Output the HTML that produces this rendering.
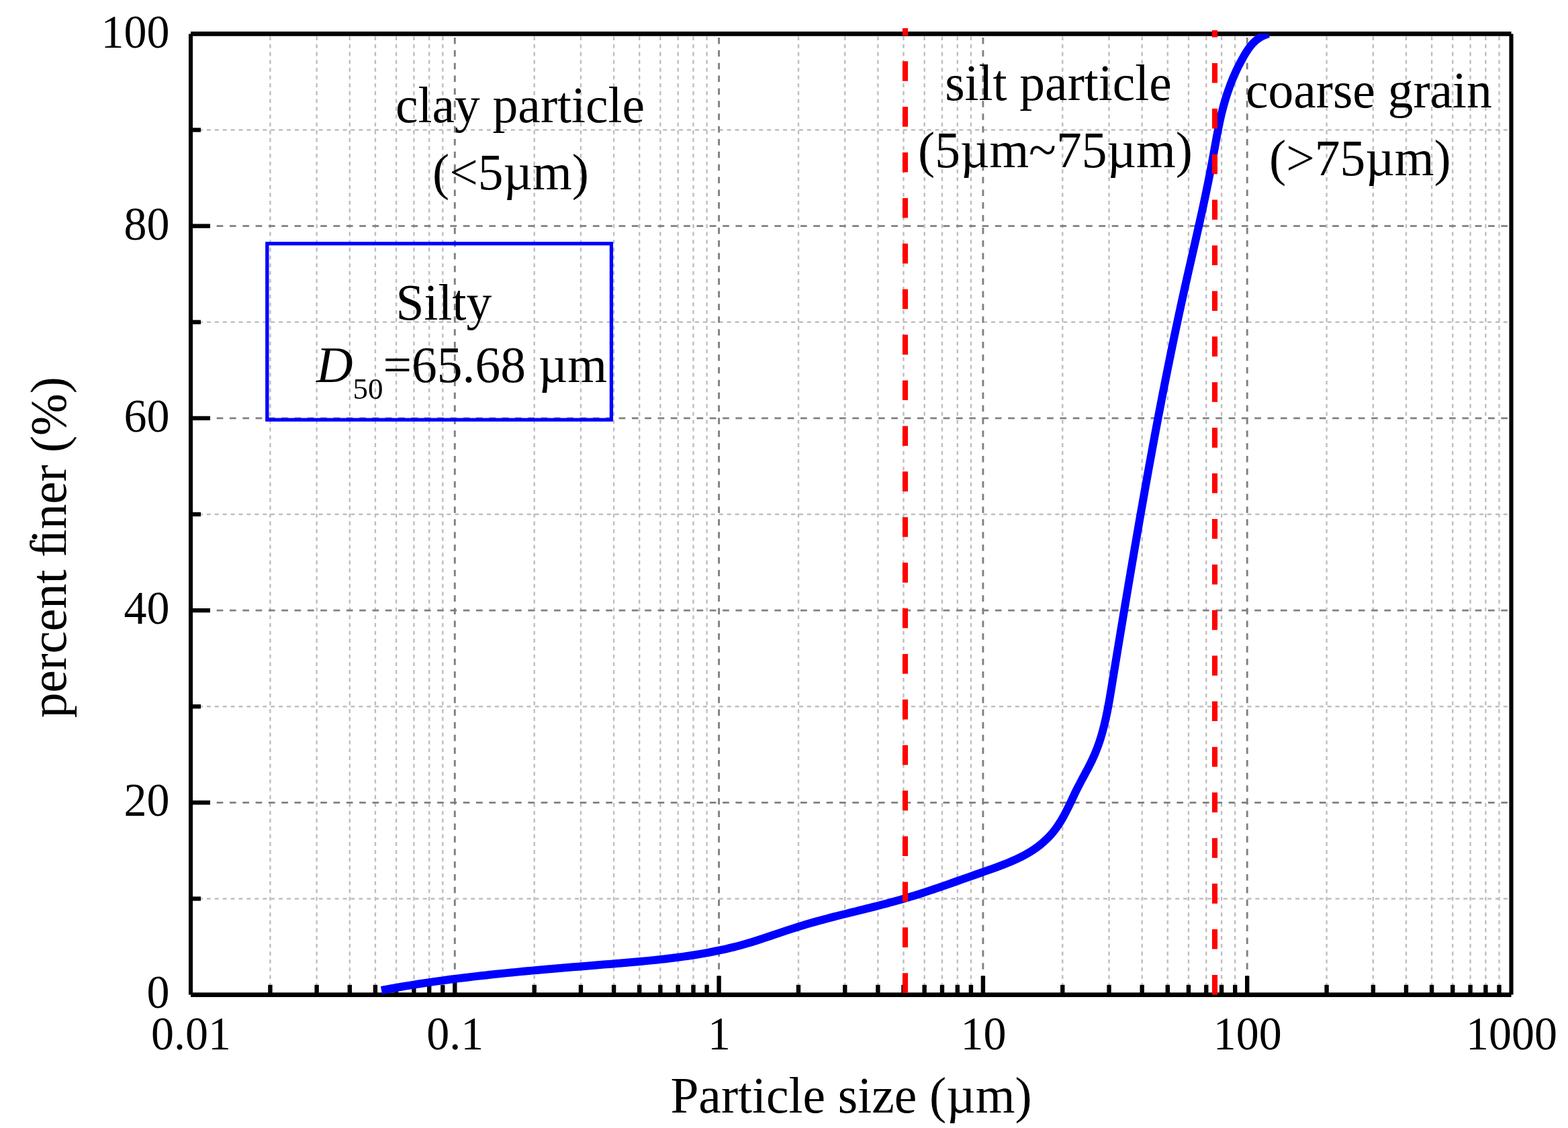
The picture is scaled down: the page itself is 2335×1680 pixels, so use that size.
<!DOCTYPE html>
<html lang="en"><head><meta charset="utf-8"><title>Particle size distribution</title>
<style>html,body{margin:0;padding:0;background:#fff}body{width:2335px;height:1680px;overflow:hidden}svg{display:block}text{font-family:"Liberation Serif","DejaVu Serif",serif;fill:#000}</style>
</head><body>
<svg width="2335" height="1680" viewBox="0 0 2335 1680">
<rect width="2335" height="1680" fill="#fff"/>
<defs><clipPath id="plot"><rect x="284.00" y="50.20" width="1966.50" height="1437.40"/></clipPath></defs>
<g fill="none" stroke="#bebebe" stroke-width="2.40" shape-rendering="auto">
<g stroke-dasharray="5.8 5.85">
<path d="M402.40 1481.40V50.50"/>
<path d="M471.65 1481.40V50.50"/>
<path d="M520.79 1481.40V50.50"/>
<path d="M558.90 1481.40V50.50"/>
<path d="M590.05 1481.40V50.50"/>
<path d="M616.38 1481.40V50.50"/>
<path d="M639.19 1481.40V50.50"/>
<path d="M659.30 1481.40V50.50"/>
<path d="M795.70 1481.40V50.50"/>
<path d="M864.95 1481.40V50.50"/>
<path d="M914.09 1481.40V50.50"/>
<path d="M952.20 1481.40V50.50"/>
<path d="M983.35 1481.40V50.50"/>
<path d="M1009.68 1481.40V50.50"/>
<path d="M1032.49 1481.40V50.50"/>
<path d="M1052.60 1481.40V50.50"/>
<path d="M1189.00 1481.40V50.50"/>
<path d="M1258.25 1481.40V50.50"/>
<path d="M1307.39 1481.40V50.50"/>
<path d="M1345.50 1481.40V50.50"/>
<path d="M1376.65 1481.40V50.50"/>
<path d="M1402.98 1481.40V50.50"/>
<path d="M1425.79 1481.40V50.50"/>
<path d="M1445.90 1481.40V50.50"/>
<path d="M1582.30 1481.40V50.50"/>
<path d="M1651.55 1481.40V50.50"/>
<path d="M1700.69 1481.40V50.50"/>
<path d="M1738.80 1481.40V50.50"/>
<path d="M1769.95 1481.40V50.50"/>
<path d="M1796.28 1481.40V50.50"/>
<path d="M1819.09 1481.40V50.50"/>
<path d="M1839.20 1481.40V50.50"/>
<path d="M1975.60 1481.40V50.50"/>
<path d="M2044.85 1481.40V50.50"/>
<path d="M2093.99 1481.40V50.50"/>
<path d="M2132.10 1481.40V50.50"/>
<path d="M2163.25 1481.40V50.50"/>
<path d="M2189.58 1481.40V50.50"/>
<path d="M2212.39 1481.40V50.50"/>
<path d="M2232.50 1481.40V50.50"/>
</g><g stroke-dasharray="6 5.92">
<path d="M284.00 1338.48H2250.50"/>
<path d="M284.00 1052.24H2250.50"/>
<path d="M284.00 766.00H2250.50"/>
<path d="M284.00 479.76H2250.50"/>
<path d="M284.00 193.52H2250.50"/>
</g></g>
<g fill="none" stroke="#808080" stroke-width="2.90" shape-rendering="auto">
<g stroke-dasharray="9.5 9.38">
<path d="M677.30 1481.40V50.50"/>
<path d="M1070.60 1481.40V50.50"/>
<path d="M1463.90 1481.40V50.50"/>
<path d="M1857.20 1481.40V50.50"/>
</g><g stroke-dasharray="9.7 9.62">
<path d="M284.00 1195.36H2250.50"/>
<path d="M284.00 909.12H2250.50"/>
<path d="M284.00 622.88H2250.50"/>
<path d="M284.00 336.64H2250.50"/>
</g></g>
<g fill="none" stroke="#000" stroke-linecap="butt">
<path stroke-width="6.90" d="M284.00 50.40H2250.50M284.00 1481.60H2250.50"/>
<path stroke-width="6.10" d="M284.00 50.40V1481.60M2250.50 50.40V1481.60"/>
</g>
<g fill="none" stroke="#000">
<g stroke-width="6.40">
<path d="M402.40 1481.60V1466.80"/>
<path d="M471.65 1481.60V1466.80"/>
<path d="M520.79 1481.60V1466.80"/>
<path d="M558.90 1481.60V1466.80"/>
<path d="M590.05 1481.60V1466.80"/>
<path d="M616.38 1481.60V1466.80"/>
<path d="M639.19 1481.60V1466.80"/>
<path d="M659.30 1481.60V1466.80"/>
<path d="M677.30 1481.60V1453.40"/>
<path d="M795.70 1481.60V1466.80"/>
<path d="M864.95 1481.60V1466.80"/>
<path d="M914.09 1481.60V1466.80"/>
<path d="M952.20 1481.60V1466.80"/>
<path d="M983.35 1481.60V1466.80"/>
<path d="M1009.68 1481.60V1466.80"/>
<path d="M1032.49 1481.60V1466.80"/>
<path d="M1052.60 1481.60V1466.80"/>
<path d="M1070.60 1481.60V1453.40"/>
<path d="M1189.00 1481.60V1466.80"/>
<path d="M1258.25 1481.60V1466.80"/>
<path d="M1307.39 1481.60V1466.80"/>
<path d="M1345.50 1481.60V1466.80"/>
<path d="M1376.65 1481.60V1466.80"/>
<path d="M1402.98 1481.60V1466.80"/>
<path d="M1425.79 1481.60V1466.80"/>
<path d="M1445.90 1481.60V1466.80"/>
<path d="M1463.90 1481.60V1453.40"/>
<path d="M1582.30 1481.60V1466.80"/>
<path d="M1651.55 1481.60V1466.80"/>
<path d="M1700.69 1481.60V1466.80"/>
<path d="M1738.80 1481.60V1466.80"/>
<path d="M1769.95 1481.60V1466.80"/>
<path d="M1796.28 1481.60V1466.80"/>
<path d="M1819.09 1481.60V1466.80"/>
<path d="M1839.20 1481.60V1466.80"/>
<path d="M1857.20 1481.60V1453.40"/>
<path d="M1975.60 1481.60V1466.80"/>
<path d="M2044.85 1481.60V1466.80"/>
<path d="M2093.99 1481.60V1466.80"/>
<path d="M2132.10 1481.60V1466.80"/>
<path d="M2163.25 1481.60V1466.80"/>
<path d="M2189.58 1481.60V1466.80"/>
<path d="M2212.39 1481.60V1466.80"/>
<path d="M2232.50 1481.60V1466.80"/>
</g><g stroke-width="6.30">
<path d="M284.00 1338.48H299.00"/>
<path d="M284.00 1195.36H313.00"/>
<path d="M284.00 1052.24H299.00"/>
<path d="M284.00 909.12H313.00"/>
<path d="M284.00 766.00H299.00"/>
<path d="M284.00 622.88H313.00"/>
<path d="M284.00 479.76H299.00"/>
<path d="M284.00 336.64H313.00"/>
<path d="M284.00 193.52H299.00"/>
</g></g>
<path clip-path="url(#plot)" d="M568.00 1475.00 C569.88 1474.65 575.54 1473.58 579.31 1472.90 C583.08 1472.21 586.85 1471.54 590.63 1470.88 C594.40 1470.22 598.18 1469.57 601.96 1468.94 C605.74 1468.30 609.52 1467.68 613.30 1467.08 C617.08 1466.47 620.87 1465.87 624.65 1465.29 C628.44 1464.70 632.23 1464.13 636.01 1463.57 C639.80 1463.01 643.59 1462.46 647.38 1461.92 C651.18 1461.39 654.97 1460.86 658.76 1460.34 C662.56 1459.82 666.35 1459.32 670.15 1458.82 C673.95 1458.32 677.74 1457.83 681.54 1457.36 C685.34 1456.88 689.14 1456.41 692.94 1455.95 C696.75 1455.49 700.55 1455.04 704.35 1454.60 C708.16 1454.15 711.96 1453.72 715.77 1453.29 C719.57 1452.86 723.38 1452.44 727.19 1452.03 C731.00 1451.62 734.81 1451.21 738.62 1450.82 C742.43 1450.42 746.24 1450.03 750.05 1449.64 C753.86 1449.25 757.67 1448.88 761.48 1448.50 C765.30 1448.13 769.11 1447.76 772.92 1447.40 C776.74 1447.03 780.55 1446.68 784.37 1446.32 C788.18 1445.97 792.00 1445.62 795.82 1445.28 C799.63 1444.93 803.45 1444.59 807.27 1444.25 C811.08 1443.92 814.90 1443.58 818.72 1443.25 C822.54 1442.92 826.36 1442.60 830.18 1442.27 C834.00 1441.95 837.81 1441.63 841.63 1441.31 C845.45 1440.99 849.27 1440.67 853.09 1440.35 C856.91 1440.03 860.73 1439.72 864.55 1439.41 C868.37 1439.09 872.19 1438.78 876.01 1438.47 C879.83 1438.15 883.65 1437.84 887.47 1437.53 C891.29 1437.22 895.11 1436.91 898.93 1436.59 C902.75 1436.28 906.57 1435.97 910.39 1435.65 C914.21 1435.34 918.03 1435.02 921.85 1434.70 C925.67 1434.38 929.49 1434.07 933.30 1433.74 C937.12 1433.41 940.94 1433.08 944.76 1432.74 C948.57 1432.40 952.39 1432.06 956.20 1431.70 C960.01 1431.34 963.83 1430.98 967.64 1430.60 C971.45 1430.22 975.26 1429.83 979.07 1429.43 C982.88 1429.02 986.68 1428.60 990.49 1428.17 C994.29 1427.73 998.09 1427.28 1001.89 1426.81 C1005.69 1426.33 1009.49 1425.84 1013.29 1425.33 C1017.08 1424.82 1020.88 1424.29 1024.66 1423.73 C1028.45 1423.17 1032.24 1422.59 1036.03 1421.98 C1039.81 1421.37 1043.59 1420.74 1047.37 1420.08 C1051.14 1419.41 1054.91 1418.72 1058.68 1418.00 C1062.44 1417.28 1066.20 1416.53 1069.95 1415.74 C1073.70 1414.95 1077.44 1414.13 1081.18 1413.28 C1084.91 1412.42 1088.63 1411.53 1092.35 1410.60 C1096.06 1409.67 1099.76 1408.70 1103.45 1407.69 C1107.14 1406.68 1110.82 1405.62 1114.49 1404.53 C1118.15 1403.45 1121.81 1402.31 1125.46 1401.17 C1129.11 1400.02 1132.74 1398.83 1136.38 1397.64 C1140.02 1396.45 1143.65 1395.23 1147.27 1394.02 C1150.90 1392.80 1154.53 1391.57 1158.16 1390.34 C1161.79 1389.12 1165.41 1387.89 1169.05 1386.68 C1172.68 1385.48 1176.32 1384.27 1179.96 1383.09 C1183.61 1381.91 1187.26 1380.75 1190.92 1379.62 C1194.58 1378.49 1198.25 1377.39 1201.92 1376.31 C1205.60 1375.23 1209.29 1374.18 1212.98 1373.14 C1216.67 1372.11 1220.37 1371.10 1224.07 1370.10 C1227.77 1369.10 1231.48 1368.12 1235.19 1367.15 C1238.91 1366.18 1242.62 1365.23 1246.34 1364.28 C1250.06 1363.34 1253.79 1362.40 1257.51 1361.47 C1261.23 1360.54 1264.96 1359.61 1268.68 1358.69 C1272.41 1357.77 1276.13 1356.85 1279.86 1355.92 C1283.58 1355.00 1287.31 1354.08 1291.03 1353.15 C1294.75 1352.22 1298.47 1351.28 1302.19 1350.34 C1305.90 1349.40 1309.61 1348.45 1313.32 1347.48 C1317.03 1346.51 1320.73 1345.54 1324.43 1344.54 C1328.13 1343.55 1331.82 1342.54 1335.50 1341.51 C1339.18 1340.48 1342.86 1339.43 1346.53 1338.36 C1350.20 1337.29 1353.85 1336.19 1357.51 1335.07 C1361.16 1333.96 1364.80 1332.82 1368.44 1331.66 C1372.08 1330.50 1375.71 1329.33 1379.34 1328.13 C1382.96 1326.94 1386.59 1325.73 1390.21 1324.52 C1393.83 1323.30 1397.44 1322.06 1401.06 1320.82 C1404.67 1319.58 1408.28 1318.32 1411.89 1317.06 C1415.50 1315.80 1419.11 1314.53 1422.73 1313.26 C1426.34 1311.98 1429.95 1310.70 1433.56 1309.42 C1437.18 1308.14 1440.80 1306.86 1444.42 1305.58 C1448.04 1304.30 1451.66 1303.01 1455.29 1301.74 C1458.92 1300.46 1462.55 1299.19 1466.19 1297.92 C1469.82 1296.64 1473.47 1295.39 1477.11 1294.10 C1480.74 1292.81 1484.37 1291.52 1487.98 1290.18 C1491.59 1288.84 1495.19 1287.48 1498.75 1286.05 C1502.31 1284.62 1505.85 1283.15 1509.34 1281.60 C1512.84 1280.04 1516.30 1278.44 1519.71 1276.72 C1523.11 1275.01 1526.48 1273.22 1529.77 1271.30 C1533.06 1269.39 1536.31 1267.38 1539.47 1265.24 C1542.63 1263.10 1545.74 1260.83 1548.73 1258.44 C1551.72 1256.06 1554.64 1253.54 1557.42 1250.92 C1560.20 1248.29 1562.88 1245.54 1565.40 1242.68 C1567.92 1239.82 1570.29 1236.83 1572.55 1233.76 C1574.80 1230.69 1576.90 1227.49 1578.92 1224.26 C1580.94 1221.02 1582.83 1217.69 1584.66 1214.34 C1586.50 1210.99 1588.22 1207.57 1589.93 1204.15 C1591.63 1200.73 1593.26 1197.27 1594.91 1193.81 C1596.56 1190.36 1598.16 1186.88 1599.83 1183.42 C1601.50 1179.96 1603.17 1176.51 1604.91 1173.07 C1606.65 1169.64 1608.46 1166.23 1610.26 1162.82 C1612.07 1159.41 1613.92 1156.02 1615.74 1152.62 C1617.55 1149.21 1619.38 1145.82 1621.14 1142.40 C1622.89 1138.97 1624.64 1135.55 1626.27 1132.09 C1627.91 1128.63 1629.49 1125.15 1630.96 1121.63 C1632.43 1118.11 1633.80 1114.56 1635.10 1110.99 C1636.40 1107.42 1637.61 1103.81 1638.75 1100.19 C1639.90 1096.56 1640.96 1092.91 1641.98 1089.24 C1642.99 1085.57 1643.93 1081.88 1644.83 1078.17 C1645.72 1074.47 1646.56 1070.74 1647.36 1067.00 C1648.17 1063.26 1648.92 1059.51 1649.65 1055.75 C1650.37 1051.99 1651.06 1048.21 1651.73 1044.43 C1652.41 1040.65 1653.05 1036.87 1653.68 1033.08 C1654.32 1029.29 1654.94 1025.49 1655.56 1021.70 C1656.18 1017.91 1656.80 1014.12 1657.42 1010.32 C1658.03 1006.53 1658.65 1002.74 1659.27 998.95 C1659.89 995.17 1660.51 991.38 1661.14 987.59 C1661.76 983.80 1662.38 980.02 1663.00 976.23 C1663.62 972.45 1664.25 968.66 1664.87 964.88 C1665.50 961.10 1666.12 957.31 1666.75 953.53 C1667.37 949.75 1668.00 945.97 1668.62 942.19 C1669.25 938.41 1669.88 934.63 1670.51 930.85 C1671.13 927.07 1671.76 923.29 1672.39 919.52 C1673.02 915.74 1673.65 911.96 1674.28 908.18 C1674.92 904.41 1675.55 900.63 1676.18 896.85 C1676.81 893.08 1677.45 889.30 1678.08 885.53 C1678.72 881.75 1679.35 877.97 1679.99 874.20 C1680.62 870.42 1681.26 866.65 1681.90 862.87 C1682.54 859.10 1683.17 855.32 1683.81 851.55 C1684.45 847.77 1685.09 844.00 1685.74 840.22 C1686.38 836.45 1687.02 832.67 1687.66 828.90 C1688.31 825.13 1688.95 821.35 1689.60 817.58 C1690.25 813.80 1690.89 810.03 1691.54 806.26 C1692.19 802.48 1692.84 798.71 1693.49 794.94 C1694.14 791.16 1694.80 787.39 1695.45 783.62 C1696.11 779.84 1696.76 776.07 1697.42 772.30 C1698.08 768.53 1698.74 764.75 1699.40 760.98 C1700.06 757.21 1700.72 753.44 1701.38 749.67 C1702.05 745.89 1702.71 742.12 1703.38 738.35 C1704.05 734.58 1704.72 730.81 1705.39 727.04 C1706.06 723.27 1706.74 719.50 1707.41 715.73 C1708.09 711.96 1708.76 708.19 1709.44 704.42 C1710.12 700.65 1710.80 696.89 1711.49 693.12 C1712.17 689.35 1712.86 685.58 1713.55 681.81 C1714.23 678.05 1714.93 674.28 1715.62 670.51 C1716.31 666.74 1717.01 662.98 1717.70 659.21 C1718.40 655.45 1719.10 651.68 1719.80 647.92 C1720.51 644.15 1721.21 640.39 1721.92 636.62 C1722.63 632.86 1723.34 629.09 1724.05 625.33 C1724.76 621.57 1725.48 617.80 1726.20 614.04 C1726.92 610.28 1727.64 606.52 1728.36 602.75 C1729.09 598.99 1729.81 595.23 1730.54 591.47 C1731.28 587.71 1732.01 583.95 1732.74 580.19 C1733.48 576.43 1734.22 572.67 1734.96 568.91 C1735.70 565.16 1736.45 561.40 1737.20 557.64 C1737.95 553.88 1738.70 550.13 1739.45 546.37 C1740.21 542.61 1740.97 538.86 1741.73 535.10 C1742.49 531.35 1743.26 527.59 1744.03 523.84 C1744.80 520.09 1745.57 516.33 1746.34 512.58 C1747.12 508.83 1747.90 505.08 1748.68 501.32 C1749.47 497.57 1750.25 493.82 1751.04 490.07 C1751.83 486.32 1752.63 482.57 1753.43 478.82 C1754.22 475.08 1755.03 471.33 1755.83 467.58 C1756.64 463.83 1757.45 460.09 1758.26 456.34 C1759.08 452.59 1759.89 448.85 1760.72 445.11 C1761.54 441.36 1762.36 437.62 1763.19 433.87 C1764.02 430.13 1764.86 426.39 1765.70 422.65 C1766.54 418.91 1767.38 415.17 1768.22 411.43 C1769.07 407.69 1769.92 403.95 1770.76 400.21 C1771.61 396.47 1772.46 392.73 1773.32 388.99 C1774.17 385.25 1775.02 381.51 1775.87 377.77 C1776.72 374.04 1777.58 370.30 1778.43 366.56 C1779.28 362.82 1780.13 359.08 1780.97 355.35 C1781.82 351.61 1782.66 347.87 1783.51 344.13 C1784.35 340.39 1785.19 336.66 1786.02 332.92 C1786.85 329.18 1787.68 325.44 1788.51 321.70 C1789.33 317.96 1790.15 314.22 1790.97 310.48 C1791.78 306.74 1792.59 302.99 1793.39 299.25 C1794.19 295.51 1794.98 291.77 1795.76 288.02 C1796.55 284.28 1797.33 280.53 1798.09 276.79 C1798.86 273.04 1799.62 269.30 1800.37 265.55 C1801.12 261.80 1801.85 258.05 1802.58 254.30 C1803.31 250.55 1804.02 246.80 1804.73 243.04 C1805.43 239.29 1806.12 235.53 1806.80 231.78 C1807.49 228.02 1808.15 224.27 1808.83 220.51 C1809.50 216.75 1810.17 213.00 1810.86 209.24 C1811.55 205.49 1812.24 201.73 1812.96 197.99 C1813.68 194.24 1814.42 190.49 1815.19 186.75 C1815.97 183.01 1816.77 179.27 1817.62 175.54 C1818.47 171.81 1819.35 168.09 1820.29 164.37 C1821.23 160.65 1822.22 156.94 1823.28 153.24 C1824.34 149.54 1825.45 145.85 1826.64 142.17 C1827.82 138.50 1829.07 134.83 1830.39 131.19 C1831.70 127.55 1833.08 123.92 1834.53 120.34 C1835.97 116.75 1837.48 113.19 1839.05 109.66 C1840.63 106.14 1842.27 102.65 1843.97 99.21 C1845.67 95.78 1847.44 92.37 1849.27 89.03 C1851.10 85.69 1852.96 82.36 1854.96 79.17 C1856.95 75.97 1858.97 72.79 1861.25 69.87 C1863.53 66.94 1865.91 64.11 1868.64 61.63 C1871.36 59.15 1874.27 56.84 1877.62 54.97 C1880.96 53.10 1886.85 51.16 1888.70 50.40" fill="none" stroke="#0000ff" stroke-width="12.00" stroke-linejoin="round"/>
<path d="M1348.00 1478.80V42.00" fill="none" stroke="#ff0000" stroke-width="8.10" stroke-dasharray="29.6 38.3"/>
<path d="M1809.00 1481.50V45.00" fill="none" stroke="#ff0000" stroke-width="8.10" stroke-dasharray="29.6 38.3"/>
<rect x="397.80" y="362.80" width="512.60" height="262.40" fill="none" stroke="#0000ff" stroke-width="5.30"/>
<g font-size="68.00" text-anchor="end">
<text transform="translate(252.50 1500.60) scale(1 1.0350)">0</text>
<text transform="translate(252.50 1214.76) scale(1 1.0350)">20</text>
<text transform="translate(252.50 928.92) scale(1 1.0350)">40</text>
<text transform="translate(252.50 643.08) scale(1 1.0350)">60</text>
<text transform="translate(252.50 357.24) scale(1 1.0350)">80</text>
<text transform="translate(252.50 71.40) scale(1 1.0350)">100</text>
</g>
<g font-size="68.00" text-anchor="middle">
<text transform="translate(284.50 1563.30) scale(1 1.0350)">0.01</text>
<text transform="translate(677.80 1563.30) scale(1 1.0350)">0.1</text>
<text transform="translate(1071.10 1563.30) scale(1 1.0350)">1</text>
<text transform="translate(1464.40 1563.30) scale(1 1.0350)">10</text>
<text transform="translate(1857.70 1563.30) scale(1 1.0350)">100</text>
<text transform="translate(2251.00 1563.30) scale(1 1.0350)">1000</text>
</g>
<text x="1267.50" y="1656.60" font-size="75.50" text-anchor="middle">Particle size (µm)</text>
<text x="98.10" y="1069.30" font-size="75.50" text-anchor="start" transform="rotate(-90 98.10 1069.30)" letter-spacing="-0.2">percent f<tspan dx="-4.2">i</tspan>ner (%)</text>
<text x="589.00" y="181.80" font-size="75.50" text-anchor="start">clay particle</text>
<text x="644.00" y="281.50" font-size="75.50" text-anchor="start">(&lt;5µm)</text>
<text x="1407.20" y="148.60" font-size="75.50" text-anchor="start">silt particle</text>
<text x="1367.00" y="248.60" font-size="75.50" text-anchor="start">(5µm~75µm)</text>
<text x="1855.00" y="160.00" font-size="75.50" text-anchor="start">coarse grain</text>
<text x="1890.00" y="260.60" font-size="75.50" text-anchor="start">(&gt;75µm)</text>
<text x="589.50" y="476.30" font-size="75.50" text-anchor="start">Silty</text>
<text x="471.00" y="569.00" font-size="75.50" text-anchor="start"><tspan font-style="italic">D</tspan><tspan font-size="45" dy="24.6">50</tspan><tspan dy="-24.6">=65.68 µm</tspan></text>
</svg>
</body></html>
